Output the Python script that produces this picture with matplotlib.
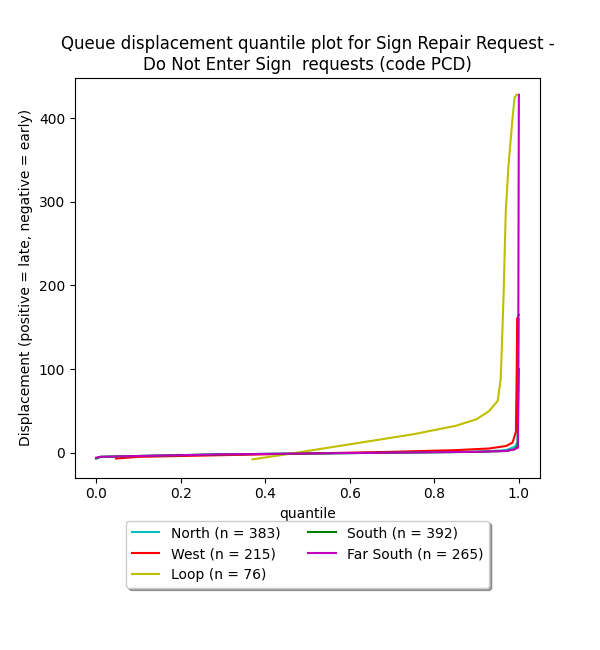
import numpy as np
import matplotlib
matplotlib.use("Agg")
import matplotlib.pyplot as plt

# quantile -> displacement
north_q = [0.0, 0.01, 0.1, 0.3, 0.5, 0.7, 0.9, 0.97, 0.99, 0.997, 1.0]
north_v = [-7, -5, -4, -2, -1, 0, 1, 3, 7, 12, 160]
west_q = [0.047, 0.1, 0.3, 0.5, 0.7, 0.85, 0.93, 0.97, 0.985, 0.993, 0.995, 0.996, 1.0]
west_v = [-7, -5, -3, -1, 1, 3, 5, 8, 12, 25, 100, 160, 165]
loop_q = [0.37, 0.45, 0.55, 0.65, 0.75, 0.85, 0.9, 0.93, 0.95, 0.957, 0.962, 0.964, 0.969, 0.975, 0.985, 0.99, 0.995]
loop_v = [-8, -2, 6, 14, 22, 32, 40, 50, 62, 88, 160, 192, 288, 340, 400, 425, 428]
south_q = [0.0, 0.01, 0.1, 0.3, 0.5, 0.7, 0.9, 0.97, 0.99, 0.997, 1.0]
south_v = [-7, -5, -4, -2, -1, 0, 1, 2, 4, 8, 100]
farsouth_q = [0.0, 0.01, 0.1, 0.3, 0.5, 0.7, 0.9, 0.97, 0.99, 0.998, 1.0]
farsouth_v = [-6, -5, -4, -2, -1, 0, 1, 2, 4, 6, 428]

fig, ax = plt.subplots(figsize=(6, 6.5), dpi=100)
ax.plot(north_q, north_v, color="c", lw=1.5, label="North (n = 383)")
ax.plot(west_q, west_v, color="r", lw=1.5, label="West (n = 215)")
ax.plot(loop_q, loop_v, color="y", lw=1.5, label="Loop (n = 76)")
ax.plot(south_q, south_v, color="g", lw=1.5, label="South (n = 392)")
ax.plot(farsouth_q, farsouth_v, color="m", lw=1.5, label="Far South (n = 265)")

ax.set_xlim(-0.05, 1.05)
ax.set_ylim(-30, 448)
ax.set_xlabel("quantile")
ax.set_ylabel("Displacement (positive = late, negative = early)")
ax.set_title("Queue displacement quantile plot for Sign Repair Request -\nDo Not Enter Sign  requests (code PCD)")
ax.legend(loc="upper center", bbox_to_anchor=(0.5, -0.09), ncol=2, shadow=True, fancybox=True)
plt.subplots_adjust(left=0.125, right=0.9, top=0.88, bottom=0.265)
fig.savefig("out.png")
